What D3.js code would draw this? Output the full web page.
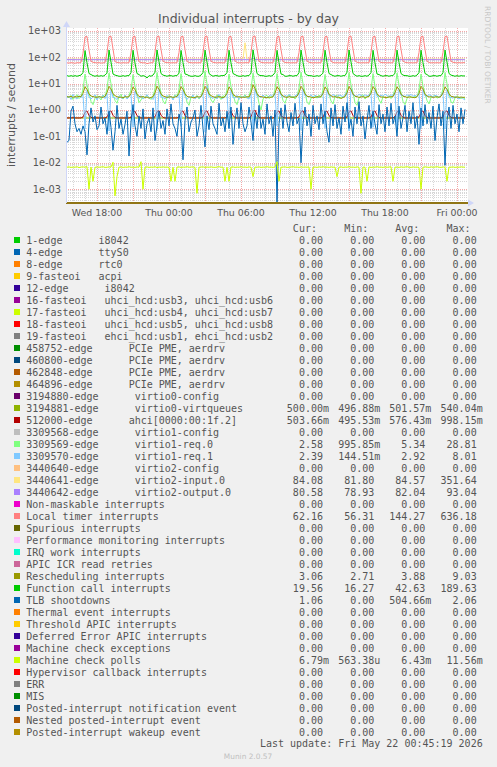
<!DOCTYPE html>
<html><head><meta charset="utf-8">
<script src="https://cdn.jsdelivr.net/npm/d3@7"></script>
<style>
body{margin:0;background:#f0f0f0;}
svg{display:block;}
text{font-family:"DejaVu Sans",sans-serif;}
.mono{font-family:"DejaVu Sans Mono",monospace;font-size:10px;fill:#555;white-space:pre;}
</style></head><body>
<svg id="c" width="497" height="767"></svg>
<script>
// ---------------- DATA ----------------
const titleText = "Individual interrupts - by day";
const yAxisLabel = "interrupts / second";
const lastUpdate = "Last update: Fri May 22 00:45:19 2026";
const muninVersion = "Munin 2.0.57";
const sideText = "RRDTOOL / TOBI OETIKER";

const seriesLabels = [
"1-edge      i8042","4-edge      ttyS0","8-edge      rtc0","9-fasteoi   acpi","12-edge      i8042",
"16-fasteoi   uhci_hcd:usb3, uhci_hcd:usb6","17-fasteoi   uhci_hcd:usb4, uhci_hcd:usb7",
"18-fasteoi   uhci_hcd:usb5, uhci_hcd:usb8","19-fasteoi   ehci_hcd:usb1, ehci_hcd:usb2",
"458752-edge      PCIe PME, aerdrv","460800-edge      PCIe PME, aerdrv","462848-edge      PCIe PME, aerdrv",
"464896-edge      PCIe PME, aerdrv","3194880-edge      virtio0-config","3194881-edge      virtio0-virtqueues",
"512000-edge      ahci[0000:00:1f.2]","3309568-edge      virtio1-config","3309569-edge      virtio1-req.0",
"3309570-edge      virtio1-req.1","3440640-edge      virtio2-config","3440641-edge      virtio2-input.0",
"3440642-edge      virtio2-output.0","Non-maskable interrupts","Local timer interrupts","Spurious interrupts",
"Performance monitoring interrupts","IRQ work interrupts","APIC ICR read retries","Rescheduling interrupts",
"Function call interrupts","TLB shootdowns","Thermal event interrupts","Threshold APIC interrupts",
"Deferred Error APIC interrupts","Machine check exceptions","Machine check polls",
"Hypervisor callback interrupts","ERR","MIS","Posted-interrupt notification event",
"Nested posted-interrupt event","Posted-interrupt wakeup event"];

const seriesColors = [
"#00CC00","#0066B3","#FF8000","#FFCC00","#330099","#990099","#CCFF00","#FF0000","#808080",
"#008F00","#00487D","#B35A00","#B38F00","#6B006B","#8FB300","#B30000","#BEBEBE","#80FF80",
"#80C9FF","#FFC080","#FFE680","#AA80FF","#EE00CC","#FF8080","#666600","#FFBFFF","#00FFCC",
"#CC6699","#999900","#00CC00","#0066B3","#FF8000","#FFCC00","#330099","#990099","#CCFF00",
"#FF0000","#808080","#008F00","#00487D","#B35A00","#B38F00"];

const z = "0.00";
const statCur = [z,z,z,z,z,z,z,z,z,z,z,z,z,z,"500.00m","503.66m",z,"2.58","2.39",z,"84.08","80.58",z,"62.16",z,z,z,z,"3.06","19.56","1.06",z,z,z,z,"6.79m",z,z,z,z,z,z];
const statMin = [z,z,z,z,z,z,z,z,z,z,z,z,z,z,"496.88m","495.53m",z,"995.85m","144.51m",z,"81.80","78.93",z,"56.31",z,z,z,z,"2.71","16.27",z,z,z,z,z,"563.38u",z,z,z,z,z,z];
const statAvg = [z,z,z,z,z,z,z,z,z,z,z,z,z,z,"501.57m","576.43m",z,"5.34","2.92",z,"84.57","82.04",z,"144.27",z,z,z,z,"3.88","42.63","504.66m",z,z,z,z,"6.43m",z,z,z,z,z,z];
const statMax = [z,z,z,z,z,z,z,z,z,z,z,z,z,z,"540.04m","998.15m",z,"28.81","8.01",z,"351.64","93.04",z,"636.18",z,z,z,z,"9.03","189.63","2.06",z,z,z,z,"11.56m",z,z,z,z,z,z];
const statHeaders = ["Cur:","Min:","Avg:","Max:"];

const xTickLabels = ["Wed 18:00","Thu 00:00","Thu 06:00","Thu 12:00","Thu 18:00","Fri 00:00"];
const yTickLabels = ["1e-03","1e-02","1e-01","1e+00","1e+01","1e+02","1e+03"];
const yTickValues = [1e-3,1e-2,1e-1,1,10,100,1000];

// time window & samples (10 minute steps starting Wed 15:30)
const viewStart = new Date(2026,4,20,15,25);
const viewEnd   = new Date(2026,4,22,0,55);
const sampleStart = new Date(2026,4,20,15,30);
const sampleStepMin = 10;
const yDomain = [3.0e-4, 1276];

const virtio0Queues = [
.50,.50,.50,.50,.50,.50,.50,.50,.50,.50,.50,.50,
.50,.50,.50,.51,.50,.50,.50,.50,.50,.50,.50,.50,
.50,.50,.497,.50,.50,.50,.50,.50,.50,.50,.50,.50,
.50,.50,.50,.50,.50,.51,.50,.50,.50,.50,.50,.50,
.50,.50,.50,.50,.50,.50,.50,.50,.50,.50,.50,.50,
.50,.50,.50,.50,.50,.50,.50,.50,.50,.50,.50,.50,
.50,.50,.50,.50,.50,.50,.50,.50,.50,.54,.50,.50,
.50,.50,.50,.50,.50,.50,.50,.50,.50,.50,.50,.50,
.50,.50,.50,.50,.50,.50,.50,.50,.50,.50,.50,.50,
.50,.50,.50,.50,.50,.50,.51,.50,.50,.50,.50,.50,
.50,.50,.50,.50,.50,.50,.50,.50,.50,.50,.50,.50,
.50,.50,.50,.50,.50,.50,.50,.50,.50,.50,.50,.50,
.50,.50,.50,.50,.50,.50,.50,.50,.50,.50,.50,.50,
.50,.50,.50,.50,.50,.50,.50,.50,.50,.50,.50,.50,
.50,.50,.50,.50,.50,.50,.50,.50,.50,.50,.50,.50,
.50,.50,.50,.50,.50,.50,.50,.50,.50,.50,.50,.50,
.50,.50,.50,.50,.50,.50,.50,.50];

const ahci = [
.50,.50,.50,.51,.50,.50,.50,.50,.54,.82,.92,.62,
.52,.50,.50,.50,.50,.50,.50,.50,.54,.84,.93,.63,
.52,.50,.50,.50,.50,.50,.50,.50,.53,.80,.90,.61,
.52,.50,.50,.50,.50,.50,.50,.50,.55,.86,.95,.64,
.52,.50,.50,.50,.50,.50,.50,.50,.54,.82,.92,.62,
.52,.50,.50,.50,.50,.50,.50,.50,.54,.83,.93,.62,
.51,.50,.50,.50,.50,.50,.50,.50,.54,.81,.91,.61,
.52,.50,.50,.50,.50,.50,.50,.50,.55,.88,.998,.66,
.52,.50,.50,.50,.50,.50,.50,.50,.54,.82,.92,.62,
.52,.50,.50,.50,.50,.50,.50,.50,.54,.84,.94,.63,
.52,.50,.50,.50,.50,.50,.50,.50,.53,.81,.91,.61,
.52,.50,.50,.50,.50,.50,.50,.50,.54,.83,.93,.62,
.52,.50,.50,.50,.50,.50,.50,.50,.54,.82,.92,.62,
.52,.50,.50,.50,.50,.50,.50,.50,.55,.85,.94,.63,
.52,.50,.50,.50,.50,.50,.50,.50,.54,.82,.92,.62,
.52,.50,.50,.50,.50,.50,.50,.50,.54,.84,.93,.63,
.52,.50,.50,.50,.50,.50,.50,.5037];

const virtio1Req0 = [
3.4,2.9,3.6,2.5,3.1,3.8,2.7,3.3,6.0,23,9,4.5,
2.1,1.6,2.8,3.5,3.0,2.4,3.7,3.1,6.5,25,10,4.0,
2.3,1.8,3.2,3.9,2.6,3.4,2.9,3.6,5.8,22,8,4.2,
1.9,2.4,3.3,2.8,3.7,3.0,2.5,3.4,6.2,26,9,4.6,
2.2,1.7,2.9,3.6,3.1,2.7,3.8,3.2,6.0,24,8,4.3,
2.0,1.5,3.1,3.4,2.8,3.6,2.6,3.3,6.4,28.8,10,4.8,
2.4,1.9,2.7,3.7,3.2,2.5,3.5,3.0,5.9,23,8,4.1,
2.1,1.6,3.0,3.5,2.9,3.8,2.8,3.4,6.3,25,9,4.4,
1.8,1.0,2.6,3.3,3.6,2.7,3.2,3.1,6.1,24,8,4.2,
2.3,1.8,3.1,3.8,2.9,3.4,2.6,3.5,6.6,27,10,4.7,
2.0,1.6,2.8,3.2,3.5,2.8,3.7,3.0,5.8,22,8,4.0,
2.2,1.7,3.3,3.6,2.7,3.1,2.9,3.4,6.2,26,9,4.5,
1.9,1.5,2.9,3.4,3.8,2.6,3.3,3.2,6.0,24,8,4.3,
2.4,1.8,3.2,3.0,2.8,3.5,2.7,3.6,6.4,25,9,4.6,
2.1,1.6,2.7,3.7,3.1,2.9,3.4,3.1,5.9,23,8,4.2,
2.3,1.7,3.0,3.3,3.6,2.8,3.2,3.4,6.3,26,10,4.4,
2.0,1.8,2.9,3.5,3.0,2.7,3.1,2.58];

const virtio1Req1 = [
2.8,3.4,2.5,3.9,3.0,2.6,3.5,2.9,4.0,0.20,5.5,3.2,
2.6,3.1,3.8,2.4,3.3,2.9,3.6,2.7,4.2,0.16,6.0,3.0,
2.9,2.5,3.4,3.0,2.7,3.7,2.6,3.2,4.1,0.22,5.2,3.3,
2.7,3.5,2.6,3.1,3.8,2.8,3.0,2.5,4.3,0.18,6.4,3.1,
3.0,2.6,3.6,2.8,3.3,2.4,3.5,2.9,4.0,0.24,5.6,3.4,
2.5,3.2,2.9,3.7,2.6,3.4,2.8,3.1,4.4,0.1445,8.01,3.2,
3.1,2.7,3.3,2.6,3.9,3.0,2.7,3.4,4.1,0.2,5.8,3.0,
2.8,3.6,2.5,3.2,3.0,3.5,2.9,2.6,4.2,0.19,6.1,3.3,
3.3,2.9,3.7,3.1,2.8,3.4,3.8,3.2,4.5,0.25,5.4,3.6,
3.0,3.6,3.2,3.9,3.3,2.9,3.5,3.7,4.6,0.17,6.3,3.4,
3.4,3.1,3.8,3.0,3.6,3.3,2.9,3.5,4.4,0.21,5.7,3.5,
3.2,3.9,3.4,3.1,3.7,3.5,3.2,3.8,4.8,0.16,6.6,3.6,
3.5,3.3,3.9,3.6,3.2,3.8,3.4,3.6,4.5,0.22,5.9,3.3,
3.1,3.7,3.3,4.0,3.5,3.2,3.8,3.4,4.7,0.18,6.2,3.5,
3.6,3.2,3.8,3.4,3.9,3.3,3.6,3.2,4.4,0.2,5.8,3.4,
3.3,3.8,3.5,3.1,3.6,3.4,3.0,3.5,4.6,0.19,6.0,3.2,
3.0,2.8,3.3,2.9,2.6,3.1,2.7,2.39];

const virtio2Input = [
84.2,84.0,84.5,83.9,84.3,84.1,84.6,84.0,84.4,84.8,84.2,84.0,
84.3,84.1,83.8,84.4,84.2,84.0,84.5,84.1,84.6,85.0,84.3,84.1,
84.0,84.4,84.2,83.9,84.3,84.5,84.1,84.2,84.7,85.2,84.4,84.0,
84.2,84.0,84.3,84.1,81.8,84.4,84.0,84.2,84.6,85.1,84.3,84.1,
84.1,84.3,84.0,84.2,84.4,84.1,84.3,84.0,84.5,84.9,84.2,84.1,
84.3,84.0,84.2,84.4,84.1,84.3,84.0,84.2,84.6,85.0,84.4,84.2,
84.0,84.2,84.4,84.1,84.3,84.0,84.2,84.5,84.7,85.3,84.3,84.1,
84.2,84.4,84.1,84.3,84.0,351.64,84.2,84.1,84.5,84.9,84.2,84.0,
84.1,84.3,84.0,84.2,84.4,84.1,84.3,84.0,84.6,85.1,84.3,84.2,
84.3,84.0,84.2,84.1,84.3,84.4,84.0,84.2,84.5,85.0,84.2,84.1,
84.0,84.2,84.4,84.1,84.3,84.0,84.2,84.1,84.7,85.2,84.4,84.0,
84.2,84.1,84.3,84.0,84.2,84.4,84.1,84.3,84.6,84.9,84.3,84.1,
84.1,84.3,84.0,84.2,84.1,84.3,84.0,84.2,84.5,85.1,84.2,84.0,
84.3,84.0,84.2,84.4,84.1,84.3,84.0,84.2,84.6,85.0,84.3,84.2,
84.0,84.2,84.1,84.3,84.0,84.2,84.4,84.1,84.5,85.2,84.4,84.1,
84.2,84.4,84.1,84.3,84.0,84.2,84.1,84.3,84.7,85.0,84.2,84.0,
84.1,84.3,84.0,84.2,84.1,84.0,84.2,84.08];

const virtio2Output = [
80.6,80.4,81.0,80.5,80.8,80.3,80.9,80.6,81.5,84.0,82.0,80.9,
80.5,80.8,80.4,81.1,80.6,80.3,80.9,80.5,81.7,85.5,82.4,81.0,
80.7,80.4,80.9,80.6,80.3,81.0,80.5,80.8,81.4,83.6,81.8,80.8,
80.6,80.9,80.4,80.7,80.5,81.0,80.3,80.6,81.8,86.0,82.5,81.1,
80.8,80.5,80.9,80.4,80.7,80.6,81.1,80.5,81.5,84.4,82.0,80.9,
80.6,80.3,80.8,80.5,81.0,80.4,80.7,80.6,81.6,85.0,82.3,81.0,
80.5,80.8,80.4,81.0,80.6,80.3,80.9,80.5,81.4,84.2,81.9,80.8,
80.7,80.4,80.9,80.6,80.5,81.0,80.4,80.7,81.9,93.04,83.0,81.2,
80.6,80.9,80.5,80.8,80.4,80.6,81.0,80.5,81.5,84.6,82.1,80.9,
80.8,80.5,80.9,80.4,80.7,80.5,80.9,80.6,81.7,85.2,82.4,81.0,
80.5,80.7,80.4,80.9,80.6,81.0,80.4,80.7,81.4,84.0,81.9,80.8,
80.7,80.4,80.8,80.5,80.9,80.6,80.3,80.8,81.8,85.8,82.6,81.1,
80.6,80.9,80.5,80.7,80.4,80.8,80.6,80.5,81.5,84.5,82.0,80.9,
80.8,80.5,80.9,80.6,80.3,80.7,81.0,80.6,81.6,85.1,82.3,81.0,
80.5,80.8,80.4,80.9,80.6,80.4,80.8,80.5,81.5,84.3,82.1,80.9,
80.7,80.4,80.9,80.5,80.8,80.6,80.4,80.7,81.7,85.4,82.5,81.0,
80.6,80.8,80.5,80.9,80.4,80.7,80.5,80.58];

const localTimer = [
61,60,62,61,59,62,61,63,140,585,612,190,
70,64,62,61,62,60,61,62,150,600,622,205,
68,63,62,60,62,61,61,62,145,592,618,185,
67,63,61,62,57,60,62,61,155,606,628,200,
71,64,62,62,61,62,61,62,150,596,620,195,
69,63,62,61,62,61,62,61,148,601,631,200,
70,64,62,61,62,62,61,62,152,588,616,190,
72,63,61,62,61,62,62,61,150,604,636,210,
70,64,62,61,62,61,62,61,145,590,620,195,
69,63,62,62,61,62,61,62,150,600,625,200,
71,64,62,61,62,61,62,61,148,595,615,190,
70,63,61,62,61,62,61,62,152,600,630,205,
72,64,62,61,62,61,62,61,150,590,620,195,
69,63,62,62,61,62,61,62,148,600,625,200,
71,64,62,61,62,61,62,61,150,595,620,198,
70,63,61,62,61,62,61,62,152,605,628,205,
70,64,62,61,62,61,62,62.16];

const rescheduling = [
3.2,3.1,3.3,3.0,3.2,3.1,3.3,3.2,4.3,7.6,6.1,4.0,
3.4,3.2,3.1,3.0,3.2,3.1,3.0,3.3,4.5,7.9,6.3,4.1,
3.5,3.2,3.0,3.1,2.9,3.2,3.1,3.2,4.2,7.4,6.0,3.9,
3.3,3.1,3.2,3.0,3.1,2.8,3.0,3.2,4.4,8.0,6.2,4.0,
3.4,3.2,3.0,3.1,3.2,3.0,3.1,3.3,4.3,7.7,6.1,4.1,
3.3,3.1,3.1,2.9,3.0,3.2,3.1,3.2,4.5,7.8,6.4,4.0,
3.5,3.2,3.0,3.1,3.2,3.1,2.9,3.3,4.2,7.5,6.0,3.9,
3.4,3.1,3.2,3.0,3.1,3.0,3.2,3.1,4.4,9.03,6.5,4.2,
3.3,3.2,3.1,3.0,2.9,3.1,3.0,3.2,4.3,7.6,6.2,4.0,
3.4,3.1,3.0,3.2,3.1,3.0,3.1,3.3,4.5,7.9,6.3,4.1,
3.3,3.2,3.1,2.9,3.0,3.2,3.1,3.2,4.2,7.4,6.0,3.9,
3.5,3.1,3.2,3.0,3.1,2.71,3.0,3.2,4.4,7.8,6.1,4.0,
3.3,3.2,3.0,3.1,3.2,3.0,3.1,3.3,4.3,7.7,6.2,4.1,
3.4,3.1,3.1,3.0,3.0,3.1,3.2,3.2,4.5,7.6,6.0,4.0,
3.3,3.2,3.0,3.1,3.1,3.0,2.9,3.2,4.2,7.9,6.3,3.9,
3.4,3.1,3.2,3.0,3.1,3.2,3.0,3.3,4.4,7.5,6.1,4.1,
3.3,3.2,3.0,3.1,3.0,3.1,3.0,3.06];

const functionCall = [
20,19,20,19,20,19,20,21,26,178,62,24,
22,20,19,20,19,20,19,21,25,186,66,23,
21,20,19,19,20,19,20,20,26,182,60,24,
22,19,20,19,16.3,20,19,21,27,188,68,24,
21,20,19,20,20,19,20,20,25,180,63,23,
22,20,19,19,20,19,19,21,26,185,66,24,
21,19,20,20,19,20,20,21,26,183,61,24,
22,20,19,19,20,19,20,20,25,189.6,70,24,
21,20,20,19,19,20,19,21,26,181,62,23,
22,19,19,20,20,19,20,20,26,186,65,24,
21,20,20,19,19,20,19,21,25,184,63,24,
22,20,19,20,20,19,20,20,27,187,67,24,
21,19,20,19,19,20,19,21,26,182,61,23,
22,20,19,20,20,19,20,20,25,185,64,24,
21,20,20,19,19,20,19,21,26,183,62,24,
22,19,19,20,20,19,20,20,26,186,66,24,
21,20,19,20,19,20,19.5,19.56];

const tlbShootdowns = [
0.06,0.07,0.9,1.4,0.3,0.15,0.2,0.12,0.25,0.15,0.02,0.3,
1.2,0.35,0.6,0.18,0.25,1.3,0.3,0.5,0.12,0.9,0.22,0.03,
0.15,1.5,0.2,0.45,0.12,0.28,0.9,0.018,0.35,1.6,0.25,0.1,
0.6,0.2,1.1,0.08,0.3,0.5,0.15,1.2,0.07,0.25,0.9,0.2,
0.4,0.12,1.1,0.25,1.7,0.3,0.2,0.1,0.7,0.3,0.013,0.4,
1.3,0.15,0.35,0.5,1.0,0.1,0.25,1.5,0.2,0.04,0.6,0.18,
1.4,0.3,0.2,0.12,1.8,0.25,0.5,0.15,0.9,0.2,1.3,0.05,
0.4,1.2,0.2,1.9,0.3,0.15,0.25,1.3,0.35,0.07,0.8,0.2,
1.5,0.2,0.45,0.12,1.7,0.3,0.6,0.1,1.0,0,0.3,1.2,
0.2,1.6,0.35,0.15,0.8,0.25,1.8,0.3,0.5,0.01,0.3,1.3,
0.25,0.7,0.1,1.5,0.3,0.6,0.18,1.7,0.3,0.9,0.15,0.06,
1.2,0.25,1.6,0.2,0.5,0.12,1.4,0.35,1.9,0.2,0.45,0.1,
1.3,0.3,2.06,0.25,0.6,0.08,0.4,1.5,0.2,0.9,0.3,0.12,
1.6,0.3,0.7,0.15,1.3,0.25,1.8,0.3,0.6,0.1,1.4,0.2,
0.5,1.5,0.15,0.9,0.3,1.9,0.2,0.6,0.05,1.2,0.25,1.6,
0.3,0.8,0.2,1.4,0.07,0.5,1.7,0.25,0.9,0.008,0.4,1.3,
0.2,1.5,0.3,0.7,0.15,1.2,0.3,1.06];

const machineCheckPolls = [
.0068,.0070,.0067,.0069,.0068,.0071,.0066,.0069,.0070,.0068,.0072,.0010,
.0069,.0020,.0067,.0070,.0068,.0069,.0071,.0067,.0068,.0070,.0069,.0105,
.00056,.0030,.0068,.0070,.0067,.0069,.0068,.0071,.0068,.0069,.0067,.0070,
.0068,.0110,.0010,.0068,.0070,.0067,.0069,.0068,.0071,.0066,.0069,.0068,
.0070,.0068,.0069,.0067,.0020,.0068,.0020,.0069,.0070,.0067,.0069,.0068,
.0071,.0068,.0069,.0070,.0067,.0007,.0068,.0069,.0070,.0067,.0069,.0068,
.0070,.0068,.0067,.0069,.0071,.0068,.0069,.0020,.0068,.0020,.0069,.0070,
.0067,.0069,.0068,.0071,.0068,.0069,.0067,.0070,.0068,.0030,.0069,.0068,
.0070,.0067,.0069,.0068,.0071,.0068,.0069,.0067,.0070,.0110,.0020,.0068,
.0069,.0070,.0067,.0068,.0069,.0071,.0068,.0069,.0067,.0070,.0068,.0069,
.0068,.0070,.0010,.0068,.0069,.0067,.0070,.0068,.0071,.0068,.0069,.0067,
.0070,.0068,.0069,.0030,.0068,.0070,.0067,.0069,.0068,.0071,.0068,.0069,
.0067,.0070,.0068,.0007,.0069,.0068,.0020,.0070,.0067,.0069,.0068,.0071,
.0068,.0069,.0067,.0070,.0068,.0069,.0071,.0020,.0068,.0069,.0067,.0070,
.0068,.0069,.0071,.0068,.0067,.0070,.0068,.0069,.0067,.0010,.0068,.0070,
.0069,.0067,.0070,.0068,.0069,.0071,.0068,.0067,.0070,.0068,.0020,.0069,
.0068,.0070,.0067,.0069,.0068,.0070,.0069,.00679];

// zero-valued series are drawn as a flat line at value 0 across the window
const zeroSeries = [0, 0];

const seriesData = {
  14: virtio0Queues, 15: ahci, 17: virtio1Req0, 18: virtio1Req1,
  20: virtio2Input, 21: virtio2Output, 23: localTimer, 28: rescheduling,
  29: functionCall, 30: tlbShootdowns, 35: machineCheckPolls
};

// ---------------- DRAW ----------------
const svg = d3.select("#c");
const plot = {l:66, r:468, t:28, b:203};

svg.append("rect").attr("width",497).attr("height",767).attr("fill","#f0f0f0");
svg.append("rect").attr("x",plot.l).attr("y",plot.t).attr("width",plot.r-plot.l).attr("height",plot.b-plot.t).attr("fill","#ffffff");

const x = d3.scaleTime().domain([viewStart, viewEnd]).range([plot.l, plot.r]);
const y = d3.scaleLog().domain(yDomain).range([plot.b, plot.t]);
const sampleTime = i => d3.timeMinute.offset(sampleStart, i*sampleStepMin);

// grid
const grid = svg.append("g");
const minorCol = "rgba(140,140,140,0.35)", majorCol = "rgba(235,110,110,0.6)";
for (let k=-4;k<=3;k++){
  for (let m=1;m<=9;m++){
    const v = m*Math.pow(10,k);
    if (v < yDomain[0] || v > yDomain[1]) continue;
    const yy = Math.round(y(v))+0.5;
    grid.append("line").attr("x1",plot.l).attr("x2",plot.r).attr("y1",yy).attr("y2",yy)
      .attr("stroke", m===1?majorCol:minorCol).attr("stroke-dasharray","1,1");
  }
}
d3.timeHour.every(1).range(viewStart, viewEnd).forEach(d=>{
  const xx = Math.round(x(d))+0.5;
  const major = d.getHours()%3===0;
  grid.append("line").attr("x1",xx).attr("x2",xx).attr("y1",plot.t).attr("y2",plot.b)
    .attr("stroke", major?majorCol:minorCol).attr("stroke-dasharray","1,1");
});

// series
svg.append("clipPath").attr("id","clip").append("rect")
  .attr("x",plot.l).attr("y",plot.t).attr("width",plot.r-plot.l).attr("height",plot.b-plot.t+1);
const lines = svg.append("g").attr("clip-path","url(#clip)");
const clampY = v => y(Math.max(v, yDomain[0]));
seriesLabels.forEach((name, idx)=>{
  const vals = seriesData[idx];
  let path;
  if (vals) {
    path = d3.line().x((d,i)=>x(sampleTime(i))).y(d=>clampY(d))(vals);
  } else {
    path = d3.line().x((d,i)=> i===0 ? x(viewStart) : x(viewEnd)).y(d=>clampY(d))(zeroSeries);
  }
  lines.append("path").attr("d",path).attr("fill","none")
    .attr("stroke",seriesColors[idx]).attr("stroke-width",1);
});

// axes
const axisCol = "#CFD6F8";
svg.append("line").attr("x1",plot.l+0.5).attr("x2",plot.l+0.5).attr("y1",plot.b).attr("y2",plot.t-3).attr("stroke",axisCol);
svg.append("path").attr("d",`M${plot.l-3},${plot.t-1} L${plot.l+4},${plot.t-1} L${plot.l+0.5},${plot.t-7} Z`).attr("fill",axisCol);
svg.append("path").attr("d",`M${plot.r},${plot.b-3.5} L${plot.r},${plot.b+3.5} L${plot.r+6},${plot.b} Z`).attr("fill",axisCol);

// y tick labels
yTickValues.forEach((v,i)=>{
  svg.append("text").attr("x",61).attr("y",y(v)+3.5).attr("text-anchor","end")
    .attr("font-size","9.8px").attr("fill","#555").text(yTickLabels[i]);
});
// x tick labels
d3.timeHour.every(6).range(viewStart, viewEnd).forEach((d,i)=>{
  svg.append("text").attr("x",x(d)).attr("y",plot.b+12.5).attr("text-anchor","middle")
    .attr("font-size","9.4px").attr("fill","#555").text(xTickLabels[i]);
});

// title & labels
svg.append("text").attr("x",248.5).attr("y",22.5).attr("text-anchor","middle")
  .attr("font-size","12.5px").attr("fill","#555").text(titleText);
svg.append("text").attr("transform","translate(15,115) rotate(-90)").attr("text-anchor","middle")
  .attr("font-size","11px").attr("fill","#555").text(yAxisLabel);
svg.append("text").attr("transform","translate(485,6) rotate(90)").attr("text-anchor","start")
  .attr("font-size","7.6px").attr("fill","#c8c8c8").text(sideText);

// legend
const colRight = [329, 380.3, 431.3, 482.7];
const charW = 6.02;
statHeaders.forEach((h,j)=>{
  svg.append("text").attr("class","mono").attr("x",colRight[j]-2*charW).attr("y",231.5)
    .attr("text-anchor","end").text(h);
});
const stats = [statCur, statMin, statAvg, statMax];
seriesLabels.forEach((name, idx)=>{
  const by = 243.5 + idx*12;
  svg.append("rect").attr("x",14).attr("y",by-6.5).attr("width",6).attr("height",6).attr("fill",seriesColors[idx]);
  svg.append("text").attr("class","mono").attr("x",26.3).attr("y",by).attr("xml:space","preserve").text(name);
  stats.forEach((arr,j)=>{
    const s = arr[idx];
    const hasUnit = /[a-zA-Z]$/.test(s);
    svg.append("text").attr("class","mono").attr("x",colRight[j]-(hasUnit?0:charW)).attr("y",by)
      .attr("text-anchor","end").text(s);
  });
});
svg.append("text").attr("class","mono").attr("x",482.7).attr("y",746.8).attr("text-anchor","end").text(lastUpdate);
svg.append("text").attr("x",248).attr("y",759).attr("text-anchor","middle")
  .attr("font-size","7.4px").attr("fill","#c0c0c0").text(muninVersion);
</script>
</body></html>
